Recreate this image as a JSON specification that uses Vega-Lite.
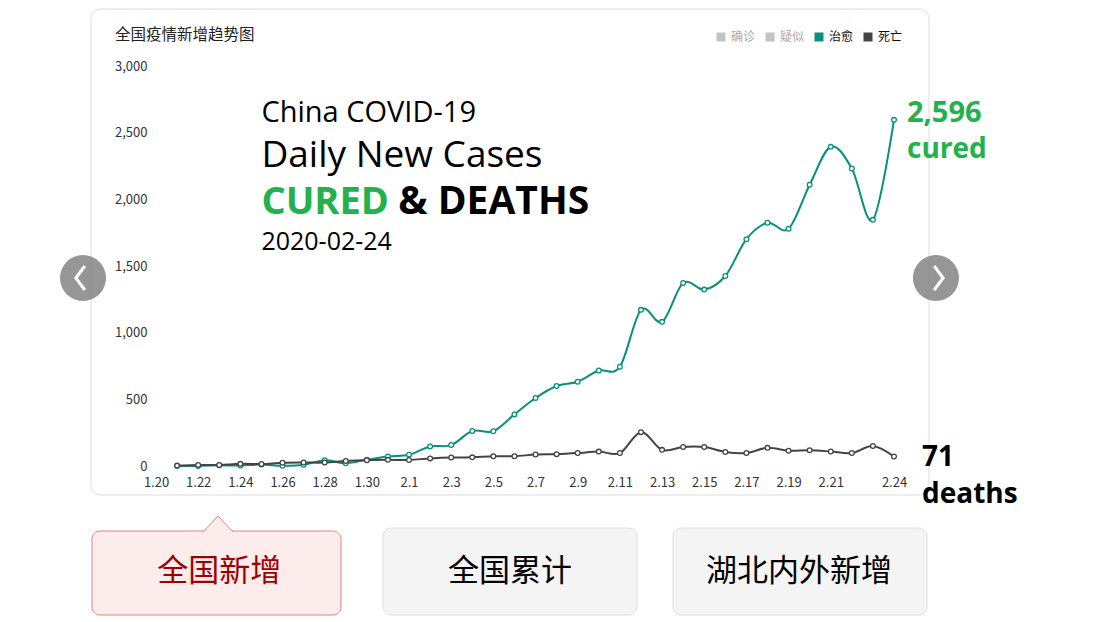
{
  "$schema": "https://vega.github.io/schema/vega-lite/v6.json",
  "width": 738,
  "height": 400,
  "autosize": "none",
  "padding": {"left": 156, "top": 66, "right": 212, "bottom": 156},
  "background": "white",
  "config": {"view": {"stroke": null}},
  "datasets": {
    "covid": [
      {"date": "2020-01-21", "series": "治愈", "value": 0},
      {"date": "2020-01-22", "series": "治愈", "value": 0},
      {"date": "2020-01-23", "series": "治愈", "value": 6},
      {"date": "2020-01-24", "series": "治愈", "value": 3},
      {"date": "2020-01-25", "series": "治愈", "value": 11},
      {"date": "2020-01-26", "series": "治愈", "value": 2},
      {"date": "2020-01-27", "series": "治愈", "value": 9},
      {"date": "2020-01-28", "series": "治愈", "value": 43},
      {"date": "2020-01-29", "series": "治愈", "value": 21},
      {"date": "2020-01-30", "series": "治愈", "value": 47},
      {"date": "2020-01-31", "series": "治愈", "value": 72},
      {"date": "2020-02-01", "series": "治愈", "value": 85},
      {"date": "2020-02-02", "series": "治愈", "value": 147},
      {"date": "2020-02-03", "series": "治愈", "value": 157},
      {"date": "2020-02-04", "series": "治愈", "value": 262},
      {"date": "2020-02-05", "series": "治愈", "value": 261},
      {"date": "2020-02-06", "series": "治愈", "value": 387},
      {"date": "2020-02-07", "series": "治愈", "value": 510},
      {"date": "2020-02-08", "series": "治愈", "value": 600},
      {"date": "2020-02-09", "series": "治愈", "value": 632},
      {"date": "2020-02-10", "series": "治愈", "value": 716},
      {"date": "2020-02-11", "series": "治愈", "value": 744},
      {"date": "2020-02-12", "series": "治愈", "value": 1171},
      {"date": "2020-02-13", "series": "治愈", "value": 1081},
      {"date": "2020-02-14", "series": "治愈", "value": 1373},
      {"date": "2020-02-15", "series": "治愈", "value": 1323},
      {"date": "2020-02-16", "series": "治愈", "value": 1425},
      {"date": "2020-02-17", "series": "治愈", "value": 1701},
      {"date": "2020-02-18", "series": "治愈", "value": 1824},
      {"date": "2020-02-19", "series": "治愈", "value": 1779},
      {"date": "2020-02-20", "series": "治愈", "value": 2109},
      {"date": "2020-02-21", "series": "治愈", "value": 2394},
      {"date": "2020-02-22", "series": "治愈", "value": 2231},
      {"date": "2020-02-23", "series": "治愈", "value": 1846},
      {"date": "2020-02-24", "series": "治愈", "value": 2596},
      {"date": "2020-01-21", "series": "死亡", "value": 3},
      {"date": "2020-01-22", "series": "死亡", "value": 8},
      {"date": "2020-01-23", "series": "死亡", "value": 8},
      {"date": "2020-01-24", "series": "死亡", "value": 16},
      {"date": "2020-01-25", "series": "死亡", "value": 15},
      {"date": "2020-01-26", "series": "死亡", "value": 24},
      {"date": "2020-01-27", "series": "死亡", "value": 26},
      {"date": "2020-01-28", "series": "死亡", "value": 26},
      {"date": "2020-01-29", "series": "死亡", "value": 38},
      {"date": "2020-01-30", "series": "死亡", "value": 43},
      {"date": "2020-01-31", "series": "死亡", "value": 46},
      {"date": "2020-02-01", "series": "死亡", "value": 45},
      {"date": "2020-02-02", "series": "死亡", "value": 57},
      {"date": "2020-02-03", "series": "死亡", "value": 64},
      {"date": "2020-02-04", "series": "死亡", "value": 65},
      {"date": "2020-02-05", "series": "死亡", "value": 73},
      {"date": "2020-02-06", "series": "死亡", "value": 73},
      {"date": "2020-02-07", "series": "死亡", "value": 86},
      {"date": "2020-02-08", "series": "死亡", "value": 89},
      {"date": "2020-02-09", "series": "死亡", "value": 97},
      {"date": "2020-02-10", "series": "死亡", "value": 108},
      {"date": "2020-02-11", "series": "死亡", "value": 97},
      {"date": "2020-02-12", "series": "死亡", "value": 254},
      {"date": "2020-02-13", "series": "死亡", "value": 121},
      {"date": "2020-02-14", "series": "死亡", "value": 143},
      {"date": "2020-02-15", "series": "死亡", "value": 142},
      {"date": "2020-02-16", "series": "死亡", "value": 105},
      {"date": "2020-02-17", "series": "死亡", "value": 98},
      {"date": "2020-02-18", "series": "死亡", "value": 136},
      {"date": "2020-02-19", "series": "死亡", "value": 114},
      {"date": "2020-02-20", "series": "死亡", "value": 118},
      {"date": "2020-02-21", "series": "死亡", "value": 109},
      {"date": "2020-02-22", "series": "死亡", "value": 97},
      {"date": "2020-02-23", "series": "死亡", "value": 150},
      {"date": "2020-02-24", "series": "死亡", "value": 71}
    ]
  },
  "layer": [
    {
      "data": {"values": [{}]},
      "mark": {"type": "rect", "fill": "white", "fillOpacity": 0, "stroke": "#dcdcdc", "strokeWidth": 1, "cornerRadius": 10},
      "encoding": {
        "x": {"datum": {"year": 2020, "month": 1, "date": 16, "hours": 22, "minutes": 0, "utc": true}, "type": "temporal"},
        "x2": {"datum": {"year": 2020, "month": 2, "date": 25, "hours": 15, "minutes": 50, "utc": true}},
        "y": {"datum": 3427.5, "type": "quantitative"},
        "y2": {"datum": -217.5}
      }
    },
    {
      "data": {"name": "covid"},
      "transform": [{"filter": "datum.series === '治愈'"}],
      "mark": {"type": "line", "interpolate": "cardinal", "strokeWidth": 2},
      "encoding": {
        "x": {
          "field": "date", "type": "temporal",
          "scale": {"type": "utc", "nice": false, "domain": [{"year": 2020, "month": 1, "date": 20, "utc": true}, {"year": 2020, "month": 2, "date": 24, "utc": true}]},
          "axis": {
            "title": null, "grid": false, "ticks": false, "domain": false, "labelOverlap": false, "labelFlush": false, "labelBound": false,
            "labelFont": "Noto Sans CJK SC", "labelFontSize": 13, "labelColor": "#333333", "labelPadding": 10,
            "labelExpr": "utcFormat(datum.value, '%-m.%-d')",
            "values": [
              {"year": 2020, "month": 1, "date": 20, "utc": true},
              {"year": 2020, "month": 1, "date": 22, "utc": true},
              {"year": 2020, "month": 1, "date": 24, "utc": true},
              {"year": 2020, "month": 1, "date": 26, "utc": true},
              {"year": 2020, "month": 1, "date": 28, "utc": true},
              {"year": 2020, "month": 1, "date": 30, "utc": true},
              {"year": 2020, "month": 2, "date": 1, "utc": true},
              {"year": 2020, "month": 2, "date": 3, "utc": true},
              {"year": 2020, "month": 2, "date": 5, "utc": true},
              {"year": 2020, "month": 2, "date": 7, "utc": true},
              {"year": 2020, "month": 2, "date": 9, "utc": true},
              {"year": 2020, "month": 2, "date": 11, "utc": true},
              {"year": 2020, "month": 2, "date": 13, "utc": true},
              {"year": 2020, "month": 2, "date": 15, "utc": true},
              {"year": 2020, "month": 2, "date": 17, "utc": true},
              {"year": 2020, "month": 2, "date": 19, "utc": true},
              {"year": 2020, "month": 2, "date": 21, "utc": true},
              {"year": 2020, "month": 2, "date": 24, "utc": true}
            ]
          }
        },
        "y": {
          "field": "value", "type": "quantitative",
          "scale": {"domain": [0, 3000], "nice": false},
          "axis": {
            "title": null, "values": [0, 500, 1000, 1500, 2000, 2500, 3000],
            "labelExpr": "format(datum.value, ',.0f')",
            "ticks": false, "domain": false, "gridColor": "#dadada", "gridWidth": 1,
            "labelFont": "Noto Sans CJK SC", "labelFontSize": 13, "labelColor": "#333333", "labelPadding": 9
          }
        },
        "color": {
          "field": "series", "type": "nominal",
          "scale": {"domain": ["确诊", "疑似", "治愈", "死亡"], "range": ["#c4c4c4", "#c4c4c4", "#07917a", "#444444"]},
          "legend": {
            "title": null, "orient": "none", "legendX": 559, "legendY": -35, "direction": "horizontal",
            "symbolType": "square", "symbolSize": 81, "symbolStrokeWidth": 0, "labelFont": "Noto Sans CJK SC",
            "labelFontSize": 12, "labelOffset": 4, "columnPadding": 8, "padding": 0,
            "encode": {
              "symbols": {"update": {"fill": {"scale": "color", "field": "value"}, "stroke": {"value": "transparent"}, "shape": {"value": "square"}}},
              "labels": {"update": {"fill": {"signal": "(datum.label === '确诊' || datum.label === '疑似') ? '#aaaaaa' : '#111111'"}}}
            }
          }
        }
      }
    },
    {
      "data": {"name": "covid"},
      "transform": [{"filter": "datum.series === '治愈'"}],
      "mark": {"type": "point", "filled": false, "fill": "white", "fillOpacity": 1, "size": 22, "strokeWidth": 1.3, "opacity": 1},
      "encoding": {
        "x": {"field": "date", "type": "temporal"},
        "y": {"field": "value", "type": "quantitative"},
        "color": {"field": "series", "type": "nominal"}
      }
    },
    {
      "data": {"name": "covid"},
      "transform": [{"filter": "datum.series === '死亡'"}],
      "mark": {"type": "line", "interpolate": "cardinal", "strokeWidth": 2},
      "encoding": {
        "x": {"field": "date", "type": "temporal"},
        "y": {"field": "value", "type": "quantitative"},
        "color": {"field": "series", "type": "nominal"}
      }
    },
    {
      "data": {"name": "covid"},
      "transform": [{"filter": "datum.series === '死亡'"}],
      "mark": {"type": "point", "filled": false, "fill": "white", "fillOpacity": 1, "size": 22, "strokeWidth": 1.3, "opacity": 1},
      "encoding": {
        "x": {"field": "date", "type": "temporal"},
        "y": {"field": "value", "type": "quantitative"},
        "color": {"field": "series", "type": "nominal"}
      }
    },
    {
      "data": {"values": [{}]},
      "mark": {"type": "text", "text": "全国疫情新增趋势图", "font": "Noto Sans CJK SC", "fontSize": 15.5, "color": "#222222", "align": "left", "baseline": "middle"},
      "encoding": {
        "x": {"datum": {"year": 2020, "month": 1, "date": 18, "hours": 1, "minutes": 20, "utc": true}, "type": "temporal"},
        "y": {"datum": 3232.5, "type": "quantitative"}
      }
    },
    {
      "data": {"values": [{}]},
      "mark": {"type": "text", "text": "China COVID-19", "font": "Open Sans", "fontSize": 29, "color": "#000000", "align": "left", "baseline": "alphabetic"},
      "encoding": {
        "x": {"datum": {"year": 2020, "month": 1, "date": 25, "utc": true}, "type": "temporal"},
        "y": {"datum": 2580, "type": "quantitative"}
      }
    },
    {
      "data": {"values": [{}]},
      "mark": {"type": "text", "text": "Daily New Cases", "font": "Open Sans", "fontSize": 37, "color": "#000000", "align": "left", "baseline": "alphabetic"},
      "encoding": {
        "x": {"datum": {"year": 2020, "month": 1, "date": 25, "utc": true}, "type": "temporal"},
        "y": {"datum": 2242, "type": "quantitative"}
      }
    },
    {
      "data": {"values": [{}]},
      "mark": {"type": "text", "text": "CURED", "font": "Open Sans", "fontSize": 38, "fontWeight": "bold", "color": "#22b14c", "align": "left", "baseline": "alphabetic"},
      "encoding": {
        "x": {"datum": {"year": 2020, "month": 1, "date": 25, "utc": true}, "type": "temporal"},
        "y": {"datum": 1890, "type": "quantitative"}
      }
    },
    {
      "data": {"values": [{}]},
      "mark": {"type": "text", "text": "& DEATHS", "font": "Open Sans", "fontSize": 39, "fontWeight": "bold", "color": "#000000", "align": "left", "baseline": "alphabetic"},
      "encoding": {
        "x": {"datum": {"year": 2020, "month": 1, "date": 31, "hours": 11, "minutes": 50, "utc": true}, "type": "temporal"},
        "y": {"datum": 1890, "type": "quantitative"}
      }
    },
    {
      "data": {"values": [{}]},
      "mark": {"type": "text", "text": "2020-02-24", "font": "Open Sans", "fontSize": 25, "color": "#000000", "align": "left", "baseline": "alphabetic"},
      "encoding": {
        "x": {"datum": {"year": 2020, "month": 1, "date": 25, "utc": true}, "type": "temporal"},
        "y": {"datum": 1620, "type": "quantitative"}
      }
    },
    {
      "data": {"values": [{}]},
      "mark": {"type": "text", "text": "2,596", "font": "Open Sans", "fontSize": 29, "fontWeight": "bold", "color": "#22b14c", "align": "left", "baseline": "alphabetic"},
      "encoding": {
        "x": {"datum": {"year": 2020, "month": 2, "date": 24, "hours": 14, "minutes": 47, "utc": true}, "type": "temporal"},
        "y": {"datum": 2580, "type": "quantitative"}
      }
    },
    {
      "data": {"values": [{}]},
      "mark": {"type": "text", "text": "cured", "font": "Open Sans", "fontSize": 28, "fontWeight": "bold", "color": "#22b14c", "align": "left", "baseline": "alphabetic"},
      "encoding": {
        "x": {"datum": {"year": 2020, "month": 2, "date": 24, "hours": 14, "minutes": 47, "utc": true}, "type": "temporal"},
        "y": {"datum": 2310, "type": "quantitative"}
      }
    },
    {
      "data": {"values": [{}]},
      "mark": {"type": "text", "text": "71", "font": "Open Sans", "fontSize": 28, "fontWeight": "bold", "color": "#000000", "align": "left", "baseline": "alphabetic"},
      "encoding": {
        "x": {"datum": {"year": 2020, "month": 2, "date": 25, "hours": 7, "minutes": 54, "utc": true}, "type": "temporal"},
        "y": {"datum": 0, "type": "quantitative"}
      }
    },
    {
      "data": {"values": [{}]},
      "mark": {"type": "text", "text": "deaths", "font": "Open Sans", "fontSize": 28, "fontWeight": "bold", "color": "#000000", "align": "left", "baseline": "alphabetic"},
      "encoding": {
        "x": {"datum": {"year": 2020, "month": 2, "date": 25, "hours": 7, "minutes": 54, "utc": true}, "type": "temporal"},
        "y": {"datum": -277.5, "type": "quantitative"}
      }
    },
    {
      "data": {"values": [{}]},
      "mark": {"type": "point", "shape": "circle", "filled": true, "size": 2124, "color": "#888888", "opacity": 0.88, "strokeWidth": 0},
      "encoding": {
        "x": {"datum": {"year": 2020, "month": 1, "date": 16, "hours": 12, "minutes": 55, "utc": true}, "type": "temporal"},
        "y": {"datum": 1410, "type": "quantitative"}
      }
    },
    {
      "data": {"values": [{}]},
      "mark": {"type": "point", "shape": "circle", "filled": true, "size": 2124, "color": "#888888", "opacity": 0.88, "strokeWidth": 0},
      "encoding": {
        "x": {"datum": {"year": 2020, "month": 2, "date": 25, "hours": 23, "minutes": 46, "utc": true}, "type": "temporal"},
        "y": {"datum": 1410, "type": "quantitative"}
      }
    },
    {
      "data": {"values": [{}]},
      "mark": {"type": "point", "shape": "M 0.15 -1 L -0.6 0 L 0.15 1", "filled": false, "size": 576, "stroke": "white", "strokeWidth": 3, "opacity": 1},
      "encoding": {
        "x": {"datum": {"year": 2020, "month": 1, "date": 16, "hours": 12, "minutes": 55, "utc": true}, "type": "temporal"},
        "y": {"datum": 1410, "type": "quantitative"}
      }
    },
    {
      "data": {"values": [{}]},
      "mark": {"type": "point", "shape": "M -0.15 -1 L 0.6 0 L -0.15 1", "filled": false, "size": 576, "stroke": "white", "strokeWidth": 3, "opacity": 1},
      "encoding": {
        "x": {"datum": {"year": 2020, "month": 2, "date": 25, "hours": 23, "minutes": 46, "utc": true}, "type": "temporal"},
        "y": {"datum": 1410, "type": "quantitative"}
      }
    },
    {
      "data": {"values": [{}]},
      "mark": {"type": "rect", "fill": "#fcecec", "stroke": "#d98686", "strokeWidth": 1, "cornerRadius": 8},
      "encoding": {
        "x": {"datum": {"year": 2020, "month": 1, "date": 16, "hours": 23, "minutes": 10, "utc": true}, "type": "temporal"},
        "x2": {"datum": {"year": 2020, "month": 1, "date": 28, "hours": 18, "minutes": 35, "utc": true}},
        "y": {"datum": -487.5, "type": "quantitative"},
        "y2": {"datum": -1117.5}
      }
    },
    {
      "data": {"values": [{}]},
      "mark": {"type": "point", "shape": "M -1 0.56 L 0 -0.5 L 1 0.56", "filled": true, "size": 900, "fill": "#fcecec", "stroke": "#d98686", "strokeWidth": 1, "opacity": 1},
      "encoding": {
        "x": {"datum": {"year": 2020, "month": 1, "date": 22, "hours": 22, "minutes": 34, "utc": true}, "type": "temporal"},
        "y": {"datum": -431.25, "type": "quantitative"}
      }
    },
    {
      "data": {"values": [{}]},
      "mark": {"type": "rect", "fill": "#f4f4f4", "stroke": "#e0e0e0", "strokeWidth": 1, "cornerRadius": 8},
      "encoding": {
        "x": {"datum": {"year": 2020, "month": 1, "date": 30, "hours": 18, "minutes": 23, "utc": true}, "type": "temporal"},
        "x2": {"datum": {"year": 2020, "month": 2, "date": 11, "hours": 19, "minutes": 29, "utc": true}},
        "y": {"datum": -465, "type": "quantitative"},
        "y2": {"datum": -1117.5}
      }
    },
    {
      "data": {"values": [{}]},
      "mark": {"type": "rect", "fill": "#f4f4f4", "stroke": "#e0e0e0", "strokeWidth": 1, "cornerRadius": 8},
      "encoding": {
        "x": {"datum": {"year": 2020, "month": 2, "date": 13, "hours": 12, "minutes": 27, "utc": true}, "type": "temporal"},
        "x2": {"datum": {"year": 2020, "month": 2, "date": 25, "hours": 13, "minutes": 34, "utc": true}},
        "y": {"datum": -465, "type": "quantitative"},
        "y2": {"datum": -1117.5}
      }
    },
    {
      "data": {"values": [{}]},
      "mark": {"type": "text", "text": "全国新增", "font": "Noto Sans CJK SC", "fontSize": 31, "color": "#a00000", "align": "center", "baseline": "middle"},
      "encoding": {
        "x": {"datum": {"year": 2020, "month": 1, "date": 23, "utc": true}, "type": "temporal"},
        "y": {"datum": -795, "type": "quantitative"}
      }
    },
    {
      "data": {"values": [{}]},
      "mark": {"type": "text", "text": "全国累计", "font": "Noto Sans CJK SC", "fontSize": 31, "color": "#000000", "align": "center", "baseline": "middle"},
      "encoding": {
        "x": {"datum": {"year": 2020, "month": 2, "date": 5, "hours": 18, "minutes": 55, "utc": true}, "type": "temporal"},
        "y": {"datum": -795, "type": "quantitative"}
      }
    },
    {
      "data": {"values": [{}]},
      "mark": {"type": "text", "text": "湖北内外新增", "font": "Noto Sans CJK SC", "fontSize": 31, "color": "#000000", "align": "center", "baseline": "middle"},
      "encoding": {
        "x": {"datum": {"year": 2020, "month": 2, "date": 19, "hours": 11, "minutes": 52, "utc": true}, "type": "temporal"},
        "y": {"datum": -795, "type": "quantitative"}
      }
    }
  ]
}
